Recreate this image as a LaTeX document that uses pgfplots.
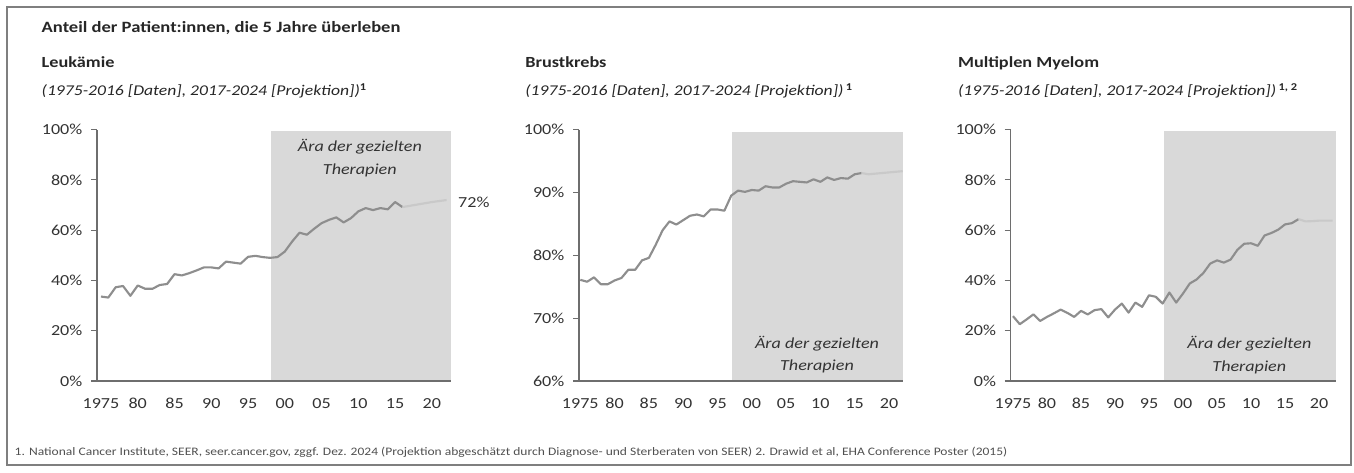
\documentclass[border=0pt]{standalone}
\usepackage{pgfplots}
\pgfplotsset{compat=1.18}
\usepackage{fontspec}
\setmainfont{Carlito}[FakeStretch=1.18]
\definecolor{shade}{HTML}{D9D9D9}
\definecolor{mainline}{HTML}{8E8E8E}
\definecolor{projline}{HTML}{C9C9C9}
\definecolor{axisgray}{HTML}{6E6E6E}
\definecolor{labgray}{HTML}{333333}
\definecolor{titlegray}{HTML}{262626}
\definecolor{framegray}{HTML}{7F7F7F}
\definecolor{footgray}{HTML}{505050}

\pgfplotstableread{
year val
1975 33.6
1976 33.2
1977 37.3
1978 37.8
1979 33.9
1980 38.0
1981 36.7
1982 36.7
1983 38.2
1984 38.6
1985 42.5
1986 42.0
1987 42.9
1988 44.0
1989 45.2
1990 45.2
1991 44.8
1992 47.5
1993 47.1
1994 46.7
1995 49.4
1996 49.8
1997 49.3
1998 49.0
1999 49.3
2000 51.5
2001 55.5
2002 59.0
2003 58.2
2004 60.6
2005 62.8
2006 64.1
2007 65.1
2008 63.1
2009 64.8
2010 67.5
2011 68.8
2012 68.0
2013 68.8
2014 68.3
2015 71.2
2016 69.2
}\leukdata
\pgfplotstableread{
year val
2016 69.2
2017 69.7
2018 70.2
2019 70.7
2020 71.2
2021 71.6
2022 72.0
}\leukproj
\pgfplotstableread{
year val
1975 76.1
1976 75.8
1977 76.5
1978 75.4
1979 75.4
1980 76.0
1981 76.4
1982 77.7
1983 77.7
1984 79.2
1985 79.6
1986 81.7
1987 84.0
1988 85.4
1989 84.9
1990 85.6
1991 86.3
1992 86.5
1993 86.2
1994 87.3
1995 87.3
1996 87.1
1997 89.5
1998 90.3
1999 90.1
2000 90.4
2001 90.3
2002 91.0
2003 90.8
2004 90.8
2005 91.4
2006 91.8
2007 91.7
2008 91.6
2009 92.1
2010 91.7
2011 92.4
2012 92.0
2013 92.3
2014 92.2
2015 92.9
2016 93.1
}\brustdata
\pgfplotstableread{
year val
2016 93.1
2017 92.9
2018 93.0
2019 93.1
2020 93.2
2021 93.3
2022 93.4
}\brustproj
\pgfplotstableread{
year val
1975 25.8
1976 22.6
1977 24.5
1978 26.5
1979 23.9
1980 25.5
1981 26.9
1982 28.4
1983 27.1
1984 25.5
1985 27.9
1986 26.5
1987 28.2
1988 28.6
1989 25.3
1990 28.4
1991 30.8
1992 27.2
1993 31.2
1994 29.5
1995 34.1
1996 33.5
1997 30.8
1998 35.2
1999 31.2
2000 34.8
2001 38.8
2002 40.4
2003 43.0
2004 46.7
2005 48.0
2006 47.1
2007 48.3
2008 52.2
2009 54.6
2010 54.8
2011 53.8
2012 57.9
2013 58.9
2014 60.2
2015 62.3
2016 62.8
2017 64.4
}\myeldata
\pgfplotstableread{
year val
2017 64.4
2018 63.5
2019 63.6
2020 63.8
2021 63.8
2022 63.8
}\myelproj

\pgfplotsset{
  panel/.style={
    scale only axis,
    height=188.5pt,
    axis lines=left,
    axis line style={-, draw=axisgray, line width=1pt},
    xtick={1975,1980,...,2020},
    xticklabels={1975,80,85,90,95,00,05,10,15,20},
    x tick style={draw=none},
    y tick style={draw=axisgray, line width=0.8pt},
    tick align=outside,
    major tick length=4.5pt,
    ticklabel style={font=\fontsize{11.5}{13}\selectfont, text=labgray},
    xticklabel style={yshift=-5pt},
    yticklabel style={xshift=-3pt},
    axis on top,
    clip=false,
  },
  mainplot/.style={draw=mainline, line width=1.6pt, line join=round},
  projplot/.style={draw=projline, line width=1.6pt, line join=round},
}
\tikzset{era/.style={font=\itshape\fontsize{11.5}{17}\selectfont, text=labgray, align=center}}

\begin{document}
\begin{tikzpicture}
\path (0,0) rectangle (1015.5pt,354pt);
\draw[framegray, line width=1.1pt] (5.25pt,5.25pt) rectangle (1013.25pt,348.75pt);

\node[anchor=base west, font=\bfseries\fontsize{11.8}{13}\selectfont, text=titlegray] at (27.75pt,329.25pt) {Anteil der Patient:innen, die 5 Jahre überleben};

\node[anchor=base west, font=\bfseries\fontsize{11.6}{13}\selectfont, text=titlegray] at (27.75pt,303pt) {Leukämie};
\node[anchor=base west, font=\fontsize{11.2}{13}\selectfont, text=titlegray] at (27.75pt,282pt) {\textit{(1975-2016 [Daten], 2017-2024 [Projektion])}\textsuperscript{\textbf{1}}};

\node[anchor=base west, font=\bfseries\fontsize{11.6}{13}\selectfont, text=titlegray] at (390.5pt,303pt) {Brustkrebs};
\node[anchor=base west, font=\fontsize{11.2}{13}\selectfont, text=titlegray] at (390.5pt,282pt) {\textit{(1975-2016 [Daten], 2017-2024 [Projektion])}\,\textsuperscript{\textbf{1}}};

\node[anchor=base west, font=\bfseries\fontsize{11.6}{13}\selectfont, text=titlegray] at (715pt,303pt) {Multiplen Myelom};
\node[anchor=base west, font=\fontsize{11.2}{13}\selectfont, text=titlegray] at (715pt,282pt) {\textit{(1975-2016 [Daten], 2017-2024 [Projektion])}\,\textsuperscript{\textbf{1, 2}}};

\node[anchor=base west, font=\fontsize{8.6}{10}\selectfont, text=footgray] at (7.5pt,12.75pt) {1. National Cancer Institute, SEER, seer.cancer.gov, zggf. Dez. 2024 (Projektion abgeschätzt durch Diagnose- und Sterberaten von SEER) 2. Drawid et al, EHA Conference Poster (2015)};

% Panel 1
\begin{axis}[panel, at={(72.75pt,68.25pt)}, anchor=origin, width=265.5pt,
  xmin=1974.46, xmax=2022.6, ymin=0, ymax=100,
  ytick={0,20,40,60,80,100}, yticklabels={0\%,20\%,40\%,60\%,80\%,100\%}]
\addplot[draw=none, fill=shade] coordinates {(1998.1,0) (2022.6,0) (2022.6,99.6) (1998.1,99.6)} -- cycle;
\addplot[mainplot] table[x=year,y=val] {\leukdata};
\addplot[projplot] table[x=year,y=val] {\leukproj};
\node[era] at (axis cs:2010.2,88.8) {Ära der gezielten\\Therapien};
\node[font=\fontsize{11.5}{13}\selectfont, text=labgray] at (axis cs:2025.7,70.9) {72\%};
\end{axis}

% Panel 2
\begin{axis}[panel, at={(434.25pt,68.25pt)}, anchor=origin, width=243pt,
  xmin=1974.81, xmax=2022.04, ymin=60, ymax=100,
  ytick={60,70,80,90,100}, yticklabels={60\%,70\%,80\%,90\%,100\%}]
\addplot[draw=none, fill=shade] coordinates {(1997.06,60) (2022.04,60) (2022.04,99.7) (1997.06,99.7)} -- cycle;
\addplot[mainplot] table[x=year,y=val] {\brustdata};
\addplot[projplot] table[x=year,y=val] {\brustproj};
\node[era] at (axis cs:2009.5,64.2) {Ära der gezielten\\Therapien};
\end{axis}

% Panel 3
\begin{axis}[panel, at={(758pt,68.25pt)}, anchor=origin, width=244pt,
  xmin=1974.66, xmax=2022.5, ymin=0, ymax=100,
  ytick={0,20,40,60,80,100}, yticklabels={0\%,20\%,40\%,60\%,80\%,100\%}]
\addplot[draw=none, fill=shade] coordinates {(1997.25,0) (2022.5,0) (2022.5,99.3) (1997.25,99.3)} -- cycle;
\addplot[mainplot] table[x=year,y=val] {\myeldata};
\addplot[projplot] table[x=year,y=val] {\myelproj};
\node[era] at (axis cs:2009.75,10.4) {Ära der gezielten\\Therapien};
\end{axis}
\end{tikzpicture}
\end{document}
